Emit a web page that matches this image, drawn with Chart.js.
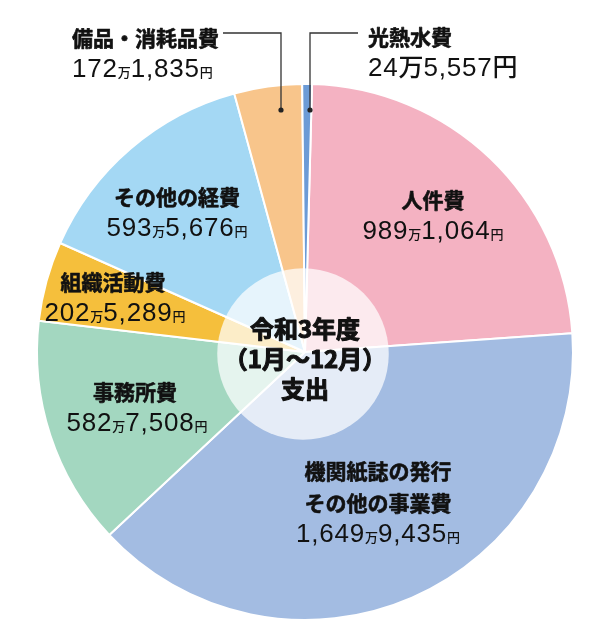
<!doctype html>
<html lang="ja">
<head>
<meta charset="UTF-8" />
<title>令和3年度 支出</title>
<style>
  html, body { margin: 0; padding: 0; background: #fff; }
  #wrap { width: 601px; height: 639px; }
</style>
</head>
<body>
<div id="wrap"><canvas id="pie" width="601" height="639"></canvas></div>

<script src="https://cdn.jsdelivr.net/npm/chart.js@4"></script>
<script>
  // data (yen)
  const categories = ["人件費", "機関紙誌の発行\nその他の事業費", "事務所費", "組織活動費", "その他の経費", "備品・消耗品費", "光熱水費"];
  const amounts = [9891064, 16499435, 5827508, 2025289, 5935676, 1721835, 245557];
  const centerTitle = ["令和3年度", "（1月～12月）", "支出"];

  // colours per slice
  const sliceColors = ["#f4b2c2", "#a3bce2", "#a3d7c0", "#f5bf3c", "#a4d8f4", "#f8c58b", "#6c9bd6"];

  // where each label sits, as offset from pie centre (dx, dy of name line)
  // callout: leader line from text to a dot inside the slice
  const labelLayout = [
    { dx: 128, dy: -152, align: "center" },
    { dx: 73, dy: 119, align: "center" },
    { dx: -170, dy: 40, align: "center", vdx: 2 },
    { dx: -192, dy: -70, align: "center", vdx: 2 },
    { dx: -128, dy: -155, align: "center" },
    { dx: -233, dy: -314, align: "left", bigUnit: false,
      line: [[-82, -319], [-24, -319], [-24, -242]] },
    { dx: 63, dy: -315, align: "left", bigUnit: true,
      line: [[53, -319], [5, -319], [5, -242]] },
  ];

  const nameFont = "bold 21px 'Noto Sans CJK JP', sans-serif";
  const numFont = "26px 'Liberation Sans', Arial, sans-serif";
  const unitFont = "500 13px 'Noto Sans CJK JP', sans-serif";
  const bigUnitFont = "500 25px 'Noto Sans CJK JP', sans-serif";

  function valueParts(v, big) {
    const man = Math.floor(v / 10000);
    const rest = v % 10000;
    const u = big ? bigUnitFont : unitFont;
    return [
      [man.toLocaleString("en-US"), numFont, "0.8px"],
      ["万", u, "0px"],
      [rest.toLocaleString("en-US"), numFont, "0.8px"],
      ["円", u, "0px"],
    ];
  }

  function drawParts(ctx, parts, x, baseline, align) {
    let w = 0;
    parts.forEach(p => { ctx.font = p[1]; ctx.letterSpacing = p[2]; w += ctx.measureText(p[0]).width; });
    let cx = align === "center" ? x - w / 2 : x;
    ctx.textAlign = "left";
    ctx.textBaseline = "alphabetic";
    parts.forEach(p => {
      ctx.font = p[1];
      ctx.letterSpacing = p[2];
      ctx.fillText(p[0], cx, baseline);
      cx += ctx.measureText(p[0]).width;
    });
    ctx.letterSpacing = "0px";
  }

  // bold text made a bit heavier with a thin outline
  function heavyText(ctx, t, x, y, w) {
    ctx.lineWidth = w;
    ctx.lineJoin = "round";
    ctx.strokeStyle = "#111";
    ctx.strokeText(t, x, y);
    ctx.fillText(t, x, y);
  }

  const labelPlugin = {
    id: "labels",
    afterDatasetsDraw(chart) {
      const ctx = chart.ctx;
      const arc = chart.getDatasetMeta(0).data[0];
      const cx = arc.x, cy = arc.y, r = arc.outerRadius;

      // pale centre disc
      ctx.save();
      ctx.beginPath();
      ctx.arc(cx - 2, cy + 2, r * 0.32, 0, Math.PI * 2);
      ctx.fillStyle = "rgba(255,255,255,0.72)";
      ctx.fill();

      ctx.fillStyle = "#111";
      ctx.font = "bold 24px 'Noto Sans CJK JP', sans-serif";
      ctx.textAlign = "center";
      ctx.textBaseline = "middle";
      centerTitle.forEach((t, i) => heavyText(ctx, t, cx, cy - 23 + i * 30, 1.1));

      categories.forEach((name, i) => {
        const L = labelLayout[i];
        const x = cx + L.dx;
        let y = cy + L.dy;
        ctx.font = nameFont;
        ctx.textAlign = L.align;
        ctx.textBaseline = "middle";
        name.split("\n").forEach(line => { heavyText(ctx, line, x, y, 0.6); y += 32; });
        drawParts(ctx, valueParts(amounts[i], L.bigUnit), x + (L.vdx || 0), y - 32 + 39, L.align);

        if (L.line) {
          ctx.strokeStyle = "#333";
          ctx.lineWidth = 1.3;
          ctx.lineJoin = "miter";
          ctx.beginPath();
          L.line.forEach((p, k) => {
            if (k === 0) ctx.moveTo(cx + p[0], cy + p[1]);
            else ctx.lineTo(cx + p[0], cy + p[1]);
          });
          ctx.stroke();
          const end = L.line[L.line.length - 1];
          ctx.beginPath();
          ctx.arc(cx + end[0], cy + end[1], 2.6, 0, Math.PI * 2);
          ctx.fillStyle = "#222";
          ctx.fill();
          ctx.fillStyle = "#111";
        }
      });
      ctx.restore();
    },
  };

  new Chart(document.getElementById("pie"), {
    type: "pie",
    data: {
      labels: categories,
      datasets: [{
        data: amounts,
        backgroundColor: sliceColors,
        borderColor: "#ffffff",
        borderWidth: 2,
      }],
    },
    options: {
      responsive: false,
      animation: false,
      rotation: 1.5,
      layout: { padding: { left: 36, top: 83, right: 27, bottom: 18 } },
      plugins: { legend: { display: false }, tooltip: { enabled: false } },
    },
    plugins: [labelPlugin],
  });
</script>
</body>
</html>
